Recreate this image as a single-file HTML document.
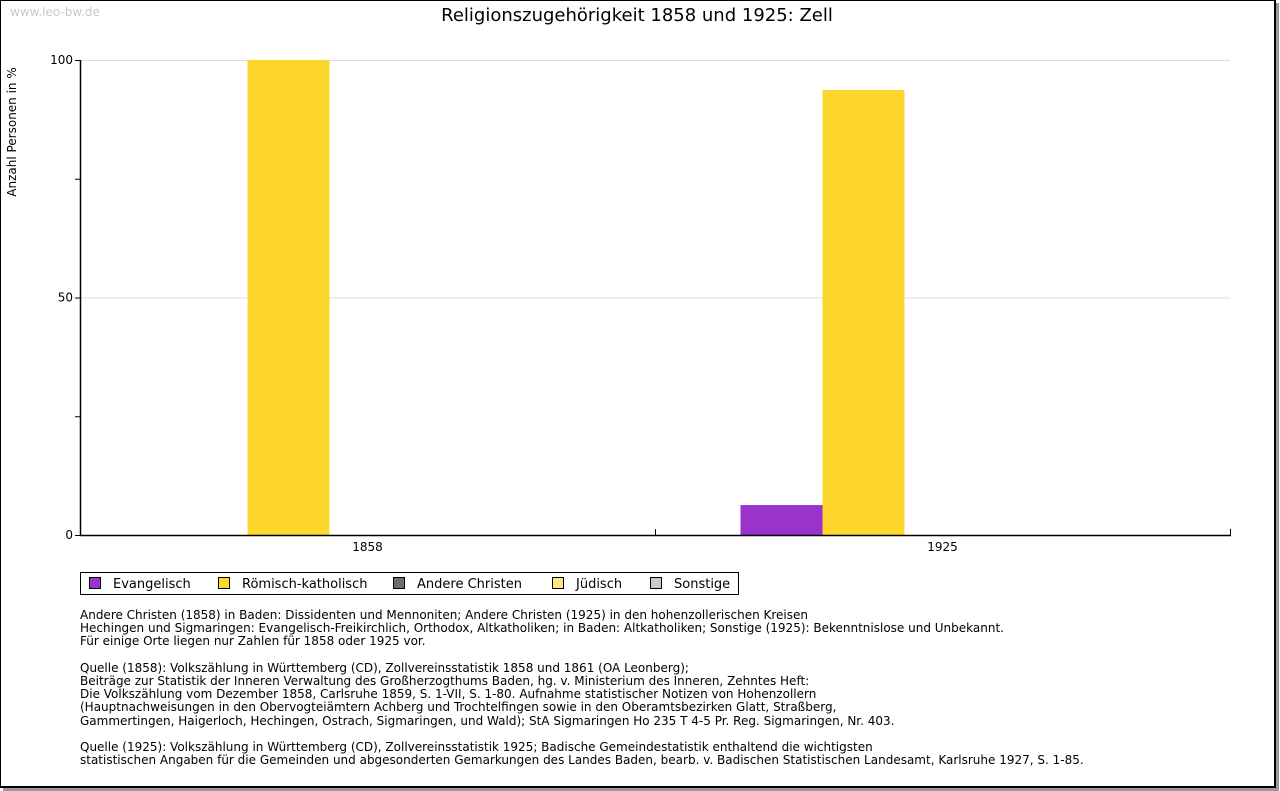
<!DOCTYPE html>
<html><head><meta charset="utf-8"><style>
body{margin:0;width:1280px;height:791px;background:#fff;overflow:hidden;font-family:"DejaVu Sans","Liberation Sans",sans-serif;}
#frame{position:absolute;left:0;top:0;width:1273px;height:785px;border:1px solid #000;border-right-width:2px;border-bottom-width:2px;box-shadow:3px 3px 0 #999;background:#fff;}
.t{position:absolute;white-space:pre;}
</style></head><body>
<div id="frame"></div>
<svg width="1280" height="791" style="position:absolute;left:0;top:0">
<text x="10" y="16" font-size="12" fill="#c8c8c8" font-family="DejaVu Sans,sans-serif">www.leo-bw.de</text>
<text x="637" y="21" font-size="18" text-anchor="middle" fill="#000" font-family="DejaVu Sans,sans-serif">Religionszugehörigkeit 1858 und 1925: Zell</text>
<text transform="translate(16,132) rotate(-90)" font-size="12" text-anchor="middle" font-family="DejaVu Sans,sans-serif">Anzahl Personen in %</text>
<g id="grid"></g><g id="bars"></g><g id="axes"></g>
</svg>
<div class="t" style="left:80px;top:572px;width:657px;height:21px;border:1px solid #000;font-size:13px" id="legend"></div>
<div class="t" style="left:80px;top:609px;font-size:12px;line-height:13.2px">Andere Christen (1858) in Baden: Dissidenten und Mennoniten; Andere Christen (1925) in den hohenzollerischen Kreisen
Hechingen und Sigmaringen: Evangelisch-Freikirchlich, Orthodox, Altkatholiken; in Baden: Altkatholiken; Sonstige (1925): Bekenntnislose und Unbekannt.
Für einige Orte liegen nur Zahlen für 1858 oder 1925 vor.

Quelle (1858): Volkszählung in Württemberg (CD), Zollvereinsstatistik 1858 und 1861 (OA Leonberg);
Beiträge zur Statistik der Inneren Verwaltung des Großherzogthums Baden, hg. v. Ministerium des Inneren, Zehntes Heft:
Die Volkszählung vom Dezember 1858, Carlsruhe 1859, S. 1-VII, S. 1-80. Aufnahme statistischer Notizen von Hohenzollern
(Hauptnachweisungen in den Obervogteiämtern Achberg und Trochtelfingen sowie in den Oberamtsbezirken Glatt, Straßberg,
Gammertingen, Haigerloch, Hechingen, Ostrach, Sigmaringen, und Wald); StA Sigmaringen Ho 235 T 4-5 Pr. Reg. Sigmaringen, Nr. 403.

Quelle (1925): Volkszählung in Württemberg (CD), Zollvereinsstatistik 1925; Badische Gemeindestatistik enthaltend die wichtigsten
statistischen Angaben für die Gemeinden und abgesonderten Gemarkungen des Landes Baden, bearb. v. Badischen Statistischen Landesamt, Karlsruhe 1927, S. 1-85.</div>
<script>
const categories=["1858","1925"];
const seriesNames=["Evangelisch","Römisch-katholisch","Andere Christen","Jüdisch","Sonstige"];
const seriesColors=["#9933cc","#fdd72e","#6e6e6e","#ffe680","#c8c8c8"];
const evangelisch=[0,6.3];
const katholisch=[100,93.7];
const andere=[0,0];
const juedisch=[0,0];
const sonstige=[0,0];
const yTicks=[0,50,100];
const seriesValues=[evangelisch,katholisch,andere,juedisch,sonstige];
const NS="http://www.w3.org/2000/svg";
const X0=80,X1=1230,Y0=535,Y1=60,YMAX=100;
const y=v=>Y0-(Y0-Y1)*v/YMAX;
const cw=(X1-X0)/categories.length, bw=82;
const xc=i=>X0+cw*(i+0.5);
function mk(t,a,p){const e=document.createElementNS(NS,t);for(const k in a)e.setAttribute(k,a[k]);p.appendChild(e);return e;}
const grid=document.getElementById('grid'),bars=document.getElementById('bars'),axes=document.getElementById('axes');
yTicks.forEach(v=>{
 if(v>0){const g=mk('line',{x1:X0,x2:X1,y1:y(v)+.5,y2:y(v)+.5,stroke:'#dcdcdc'},grid);
 
 }
 const t=mk('text',{x:X0-7,y:y(v)+4,'font-size':12,'text-anchor':'end','font-family':'DejaVu Sans,sans-serif'},axes);t.textContent=v;
 
 
});
for(let v=0;v<=YMAX;v+=25){mk('line',{x1:X0-5,x2:X0,y1:y(v)+.5,y2:y(v)+.5,stroke:'#000'},axes);}
categories.forEach((c,i)=>{
 seriesValues.forEach((s,j)=>{
  if(s[i]<=0)return;
  const x=xc(i)-bw*2.5+bw*j+3;
  const r=mk('rect',{x:x,y:y(s[i]),width:bw,height:Y0-y(s[i]),fill:seriesColors[j]},bars);
  
  
 });
 const t=mk('text',{x:xc(i),y:Y0+16,'font-size':12,'text-anchor':'middle','font-family':'DejaVu Sans,sans-serif'},axes);t.textContent=c;
 
 
 if(i>0)mk('line',{x1:X0+cw*i+.5,x2:X0+cw*i+.5,y1:Y0-6,y2:Y0,stroke:'#000'},axes);
});
mk('line',{x1:X1+.5,x2:X1+.5,y1:Y0-6,y2:Y0,stroke:'#000'},axes);
mk('line',{x1:X0+.5,x2:X0+.5,y1:Y1,y2:Y0+1,stroke:'#000','stroke-width':1.5},axes);
mk('line',{x1:X0,x2:X1+1,y1:Y0+.5,y2:Y0+.5,stroke:'#000','stroke-width':1.5},axes);
const lg=document.getElementById('legend');
const lx=[8,137,312,471,569];
seriesNames.forEach((n,j)=>{
 const d=document.createElement('div');
 d.style.cssText='position:absolute;top:4px;left:'+lx[j]+'px;font-size:13px;line-height:14px';
 d.innerHTML='<span style="display:inline-block;width:10px;height:10px;border:1px solid #000;background:'+seriesColors[j]+';vertical-align:-1px;margin-right:12px"></span>'+n;
 
 
 lg.appendChild(d);
});
</script>
</body></html>
